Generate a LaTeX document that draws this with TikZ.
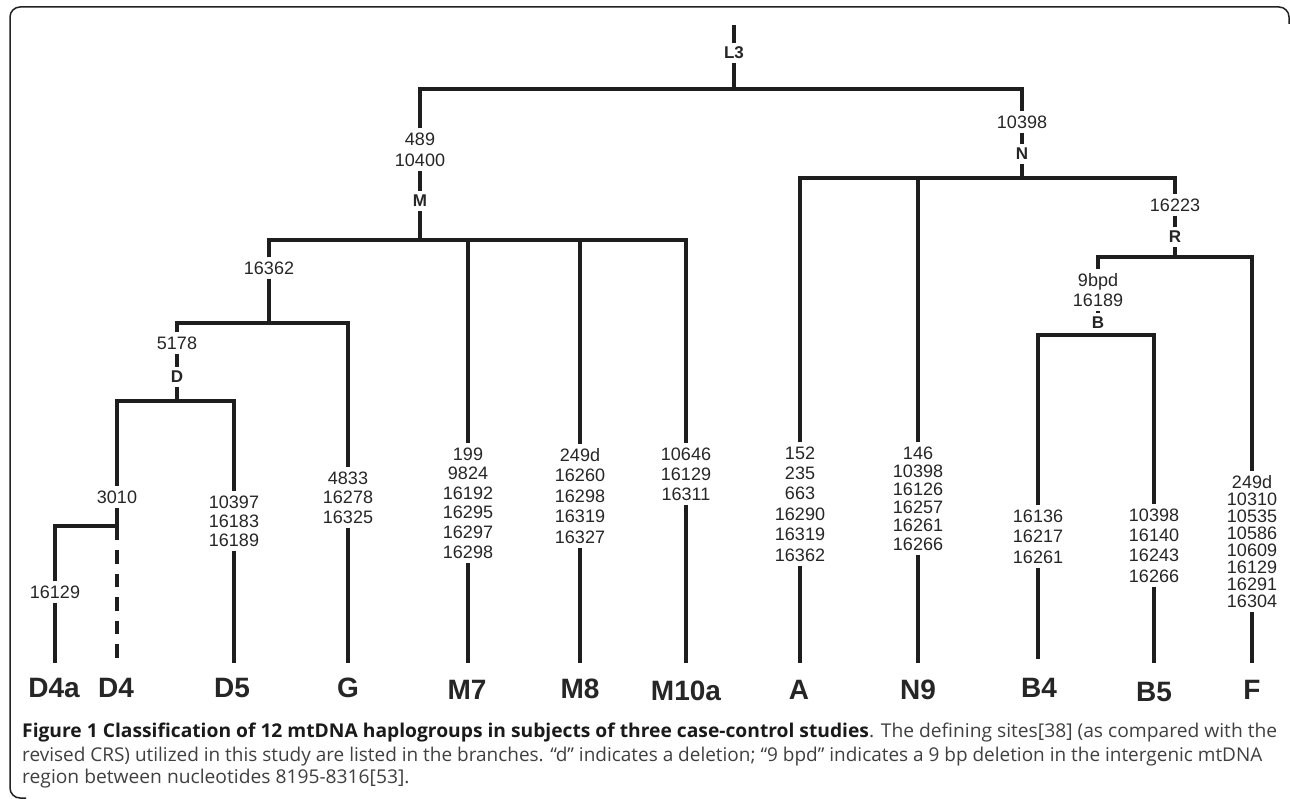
\documentclass[tikz,border=0pt]{standalone}
\usepackage{fontspec}
\usepackage{graphicx}
\setmainfont{Liberation Sans}
\newfontfamily\treefont{Liberation Sans}
\newfontfamily\capfont{Open Sans}
\definecolor{linec}{HTML}{1E1E1E}
\definecolor{textc}{HTML}{262626}
\definecolor{capc}{HTML}{404040}
\definecolor{capb}{HTML}{1A1A1A}
\definecolor{framec}{HTML}{222222}
\newlength\capw
\newcommand\capfirst{{\bfseries\color{capb}Figure 1 Classification of 12 mtDNA haplogroups in subjects of three case-control studies}. The defining sites[38] (as compared with the}
\newcommand\capsx{0.9}
\AtBeginDocument{%
  \settowidth{\capw}{\capfont\fontsize{19}{23}\selectfont{\bfseries Figure 1 Classification of 12 mtDNA haplogroups in subjects of three case-control studies}. The defining sites[38] (as compared with the}%
  \pgfmathsetmacro{\capsxtmp}{1255/\capw}%
  \global\let\capsx\capsxtmp}
\tikzset{
  conn/.style={line width=4pt, draw=linec, line join=miter},
  site/.style={font=\treefont\fontsize{18}{#1}\selectfont, text=textc, align=center, inner xsep=1pt, inner ysep=4pt},
  site/.default=20,
  clade/.style={font=\treefont\bfseries\fontsize{17}{20}\selectfont, text=textc, inner sep=4pt},
  leaf/.style={font=\treefont\bfseries\fontsize{28}{30}\selectfont, text=textc, inner sep=0pt},
  capline/.style={font=\capfont\fontsize{19}{23}\selectfont, text=capc, inner sep=0pt, anchor=base west},
  framestyle/.style={line width=1.5pt, draw=framec, rounded corners=10pt}
}
\begin{document}
\begin{tikzpicture}[x=1pt,y=-1pt]
\fill[white] (0,0) rectangle (1290,799);
\useasboundingbox (0,0) rectangle (1290,799);
\draw[framestyle] (26,798) -- (10,798) -- (10,7) -- (1289,7) -- (1289,24);

% ---------- root ----------
\coordinate (rootTop) at (734,25);
\node[clade] (L3) at (734,53) {L3};
\coordinate (rootJ) at (734,89);
\coordinate (rootL) at (420,89);
\coordinate (rootR) at (1022,89);
\draw[conn] (rootTop) -- (L3);
\draw[conn] (L3) -- (rootJ);
\node[site=21] (sM) at (420,149.5) {489\\10400};
\node[clade] (M) at (420,201) {M};
\node[site] (sN) at (1022,122) {10398};
\node[clade] (N) at (1022,154) {N};
\draw[conn] (sM) -- (rootL) -- (rootR) -- (sN);
\draw[conn] (sM) -- (M);
\draw[conn] (sN) -- (N);

% ---------- M ----------
\coordinate (MJ) at (420,240);
\coordinate (ML) at (269,240);
\coordinate (MR) at (686,240);
\coordinate (M7J) at (468,240);
\coordinate (M8J) at (580,240);
\draw[conn] (M) -- (MJ);
\node[site] (s16362) at (269,268) {16362};
\node[site=20] (sM10a) at (686,474) {10646\\16129\\16311};
\draw[conn] (s16362) -- (ML) -- (MR) -- (sM10a);
\node[site=19.6] (sM7) at (468,503) {199\\9824\\16192\\16295\\16297\\16298};
\node[site=20.5] (sM8) at (580,496) {249d\\16260\\16298\\16319\\16327};
\draw[conn] (M7J) -- (sM7);
\draw[conn] (M8J) -- (sM8);

% ---------- 16362 ----------
\coordinate (GJ) at (269,323);
\coordinate (GL) at (177,323);
\coordinate (GR) at (348,323);
\draw[conn] (s16362) -- (GJ);
\node[site] (s5178) at (177,343) {5178};
\node[clade] (D) at (177,377) {D};
\node[site=19.5] (sG) at (348,497.5) {4833\\16278\\16325};
\draw[conn] (s5178) -- (GL) -- (GR) -- (sG);
\draw[conn] (s5178) -- (D);

% ---------- D ----------
\coordinate (DJ) at (177,401);
\coordinate (DL) at (117,401);
\coordinate (DR) at (234,401);
\draw[conn] (D) -- (DJ);
\node[site] (s3010) at (117,497) {3010};
\node[site=19] (sD5) at (234,521) {10397\\16183\\16189};
\draw[conn] (s3010) -- (DL) -- (DR) -- (sD5);
\coordinate (D4aL) at (55,526);
\coordinate (D4aR) at (117,526);
\coordinate (D4solid) at (117,540);
\node[site] (s16129) at (55,592) {16129};
\draw[conn] (s3010) -- (D4solid);
\draw[conn] (s16129) -- (D4aL) -- (D4aR);

% ---------- N ----------
\coordinate (NJ) at (1022,178);
\coordinate (NL) at (800,178);
\coordinate (NR) at (1175,178);
\coordinate (N9J) at (918,178);
\draw[conn] (N) -- (NJ);
\node[site=20.4] (sA) at (800,504) {152\\235\\663\\16290\\16319\\16362};
\node[site] (s16223) at (1175,205) {16223};
\draw[conn] (sA) -- (NL) -- (NR) -- (s16223);
\node[site=18.2] (sN9) at (918,498.5) {146\\10398\\16126\\16257\\16261\\16266};
\draw[conn] (N9J) -- (sN9);
\node[clade] (R) at (1175,237) {R};
\draw[conn] (s16223) -- (R);

% ---------- R ----------
\coordinate (RJ) at (1175,257);
\coordinate (RL) at (1098,257);
\coordinate (RR) at (1252,257);
\draw[conn] (R) -- (RJ);
\node[site=20] (s9bpd) at (1098,290) {9bpd\\16189};
\node[site=17] (sF) at (1252,541.5) {249d\\10310\\10535\\10586\\10609\\16129\\16291\\16304};
\draw[conn] (s9bpd) -- (RL) -- (RR) -- (sF);
\node[clade] (B) at (1098,323) {B};
\draw[conn] (s9bpd) -- (B);

% ---------- B ----------
\coordinate (BJ) at (1098,335);
\coordinate (BL) at (1038,335);
\coordinate (BR) at (1154,335);
\draw[conn] (B) -- (BJ);
\node[site=20.5] (sB4) at (1038,536.5) {16136\\16217\\16261};
\node[site=20.3] (sB5) at (1154,545.5) {10398\\16140\\16243\\16266};
\draw[conn] (sB4) -- (BL) -- (BR) -- (sB5);

% ---------- leaves ----------
\coordinate (eD4a) at (55,663);
\coordinate (eD4) at (117,663);
\coordinate (eD5) at (234,663);
\coordinate (eG) at (348,663);
\coordinate (eM7) at (468,663);
\coordinate (eM8) at (580,663);
\coordinate (eM10a) at (686,663);
\coordinate (eA) at (800,663);
\coordinate (eN9) at (918,663);
\coordinate (eB4) at (1038,659);
\coordinate (eB5) at (1154,663);
\coordinate (eF) at (1252,663);
\draw[conn] (s16129) -- (eD4a);
\draw[conn, dash pattern=on 13.5pt off 10pt, dash phase=13.5pt] (D4solid) -- (eD4);
\draw[conn] (sD5) -- (eD5);
\draw[conn] (sG) -- (eG);
\draw[conn] (sM7) -- (eM7);
\draw[conn] (sM8) -- (eM8);
\draw[conn] (sM10a) -- (eM10a);
\draw[conn] (sA) -- (eA);
\draw[conn] (sN9) -- (eN9);
\draw[conn] (sB4) -- (eB4);
\draw[conn] (sB5) -- (eB5);
\draw[conn] (sF) -- (eF);

\node[leaf] (lD4a) at (54,688) {D4a};
\node[leaf] (lD4) at (116,688) {D4};
\node[leaf] (lD5) at (232,688) {D5};
\node[leaf] (lG) at (348,688) {G};
\node[leaf] (lM7) at (467,690) {M7};
\node[leaf] (lM8) at (580,689) {M8};
\node[leaf] (lM10a) at (686,691) {M10a};
\node[leaf] (lA) at (799,690) {A};
\node[leaf] (lN9) at (918,690) {N9};
\node[leaf] (lB4) at (1039,688) {B4};
\node[leaf] (lB5) at (1154,692) {B5};
\node[leaf] (lF) at (1252,690) {F};

% ---------- caption ----------
\node[capline] (cap1) at (22,737) {\scalebox{\capsx}[1]{\capfirst}};
\node[capline] (cap2) at (22,761) {\resizebox{1240pt}{\height}{revised CRS) utilized in this study are listed in the branches. “d” indicates a deletion; “9 bpd” indicates a 9 bp deletion in the intergenic mtDNA}};
\node[capline] (cap3) at (22,783) {\scalebox{\capsx}[1]{region between nucleotides 8195-8316[53].}};
\end{tikzpicture}
\end{document}
